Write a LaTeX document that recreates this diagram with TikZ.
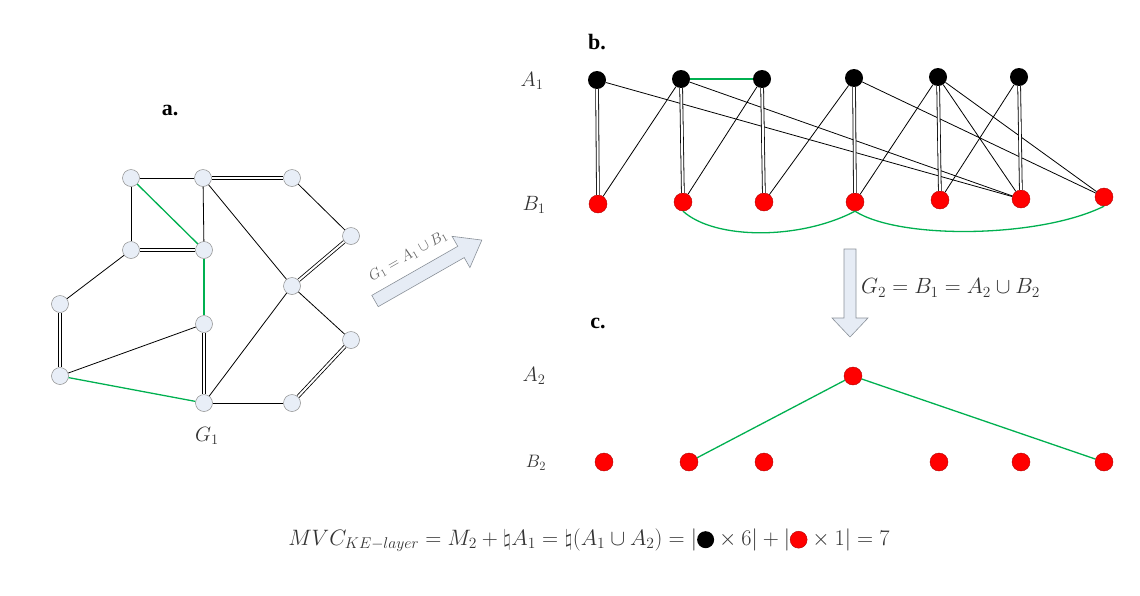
\documentclass[tikz,border=0pt]{standalone}
\usepackage{fix-cm}
\usepackage{fontspec}
\setmainfont{Liberation Serif}
\definecolor{gnode}{HTML}{E8EEF7}
\definecolor{gborder}{HTML}{8C8C8C}
\definecolor{ggreen}{HTML}{00B050}
\definecolor{arrowfill}{HTML}{E6ECF5}
\definecolor{arrowdraw}{HTML}{8A9199}
\definecolor{txtgray}{HTML}{333333}
\newcommand{\bdotm}{\tikz[baseline=-5.5pt]\fill[black] (0pt,0pt) circle (8.5pt);}
\newcommand{\rdotm}{\tikz[baseline=-5.5pt]\filldraw[fill=red,draw=red!70!black,line width=0.4pt] (0pt,0pt) circle (8.5pt);}
\tikzset{
  gv/.style={circle, draw=gborder, fill=gnode, minimum size=17pt, inner sep=0pt, line width=0.5pt},
  bkv/.style={circle, fill=black, minimum size=18pt, inner sep=0pt},
  rdv/.style={circle, fill=red, draw=red!70!black, minimum size=18pt, inner sep=0pt, line width=0.4pt},
  edg/.style={line width=0.8pt, black},
  dbl/.style={double, double distance=2pt, line width=0.8pt, black},
  grn/.style={ggreen, line width=1.3pt},
  lbl/.style={text=txtgray, font=\fontsize{20.7}{22}\selectfont, inner sep=0pt},
  hdr/.style={font=\fontsize{22}{24}\selectfont\bfseries, inner sep=0pt},
  bigarrow/.style={fill=arrowfill, draw=arrowdraw, line width=0.6pt, line join=miter}
}
\begin{document}
\begin{tikzpicture}[x=1pt,y=-1pt]
\useasboundingbox (0,0) rectangle (1140,595);
% ---------- a. G1 ----------
\node[hdr] (ha) at (170,110) {a.};
\node[gv] (g1) at (131,178) {};
\node[gv] (g2) at (203,178) {};
\node[gv] (g3) at (292,178) {};
\node[gv] (g4) at (131,250) {};
\node[gv] (g5) at (204,250) {};
\node[gv] (g6) at (351,236) {};
\node[gv] (g7) at (292,286) {};
\node[gv] (g8) at (60,304) {};
\node[gv] (g9) at (204,324) {};
\node[gv] (g10) at (351,340) {};
\node[gv] (g11) at (60,376) {};
\node[gv] (g12) at (204,403) {};
\node[gv] (g13) at (292,403) {};
\node[lbl] (G1lab) at (207,436) {$G_1$};
\draw[edg] (g1) -- (g2);
\draw[dbl] (g2) -- (g3);
\draw[edg] (g1) -- (g4);
\draw[grn] (g1) -- (g5);
\draw[edg] (g2) -- (g5);
\draw[edg] (g2) -- (g7);
\draw[edg] (g3) -- (g6);
\draw[dbl] (g4) -- (g5);
\draw[edg] (g4) -- (g8);
\draw[grn] (g5) -- (g9);
\draw[dbl] (g6) -- (g7);
\draw[edg] (g7) -- (g10);
\draw[edg] (g7) -- (g12);
\draw[dbl] (g8) -- (g11);
\draw[edg] (g9) -- (g11);
\draw[dbl] (g9) -- (g12);
\draw[grn] (g11) -- (g12);
\draw[edg] (g12) -- (g13);
\draw[dbl] (g13) -- (g10);
% ---------- diagonal arrow ----------
\begin{scope}[shift={(375,301)}, rotate=29.7]
\draw[bigarrow] (0,-6.5) -- (99,-6.5) -- (99,-18) -- (123,0) -- (99,18) -- (99,6.5) -- (0,6.5) -- cycle;
\end{scope}
\node[text=gray!75!black, font=\fontsize{15}{17}\selectfont, rotate=29.7, inner sep=0pt] (arrlab) at (408,256) {$G_1 = A_1 \cup B_1$};
% ---------- b. ----------
\node[hdr] (hb) at (597,42) {b.};
\node[lbl] (LA1) at (532,81) {$A_1$};
\node[lbl] (LB1) at (534,205) {$B_1$};
\node[bkv] (a1) at (597,80) {};
\node[bkv] (a2) at (681,79) {};
\node[bkv] (a3) at (762,79) {};
\node[bkv] (a4) at (854,78) {};
\node[bkv] (a5) at (938,77) {};
\node[bkv] (a6) at (1019,77) {};
\node[rdv] (b1) at (598,204) {};
\node[rdv] (b2) at (683,202) {};
\node[rdv] (b3) at (764,202) {};
\node[rdv] (b4) at (855,202) {};
\node[rdv] (b5) at (940,200) {};
\node[rdv] (b6) at (1021,199) {};
\node[rdv] (b7) at (1104,197) {};
\draw[dbl] (a1) -- (b1);
\draw[edg] (a1) -- (b6);
\draw[edg] (a2) -- (b1);
\draw[dbl] (a2) -- (b2);
\draw[edg] (a2) -- (b6);
\draw[grn] (a2) -- (a3);
\draw[edg] (a3) -- (b2);
\draw[dbl] (a3) -- (b3);
\draw[edg] (a4) -- (b3);
\draw[dbl] (a4) -- (b4);
\draw[edg] (a4) -- (b7);
\draw[edg] (a5) -- (b4);
\draw[dbl] (a5) -- (b5);
\draw[edg] (a5) -- (b6);
\draw[edg] (a5) -- (b7);
\draw[edg] (a6) -- (b5);
\draw[dbl] (a6) -- (b6);
\draw[grn] (b2.south) .. controls (715,240) and (800,240) .. (b4.south);
\draw[grn] (b4.south) .. controls (900,240) and (1040,238) .. (b7.south);
% ---------- down arrow ----------
\draw[bigarrow] (844,249) -- (856,249) -- (856,318) -- (868,318) -- (850,337) -- (832,318) -- (844,318) -- cycle;
\node[lbl, anchor=west, font=\fontsize{22}{24}\selectfont] (G2lab) at (861,288) {$G_2 = B_1 = A_2 \cup B_2$};
% ---------- c. ----------
\node[hdr] (hc) at (598,323) {c.};
\node[lbl] (LA2) at (534,376) {$A_2$};
\node[lbl, font=\fontsize{18}{20}\selectfont] (LB2) at (536,463) {$B_2$};
\node[rdv] (c0) at (853,376) {};
\node[rdv] (d1) at (604,462) {};
\node[rdv] (d2) at (689,462) {};
\node[rdv] (d3) at (764,462) {};
\node[rdv] (d4) at (939,462) {};
\node[rdv] (d5) at (1021,462) {};
\node[rdv] (d6) at (1104,462) {};
\draw[grn] (c0) -- (d2);
\draw[grn] (c0) -- (d6);
% ---------- formula ----------
\node[lbl, font=\fontsize{22.3}{24}\selectfont] (formula) at (589,540) {$MVC_{KE-layer} = M_2 + \natural A_1 = \natural(A_1\cup A_2) = |\bdotm\times 6| + |\rdotm\times 1| = 7$};
\end{tikzpicture}
\end{document}
